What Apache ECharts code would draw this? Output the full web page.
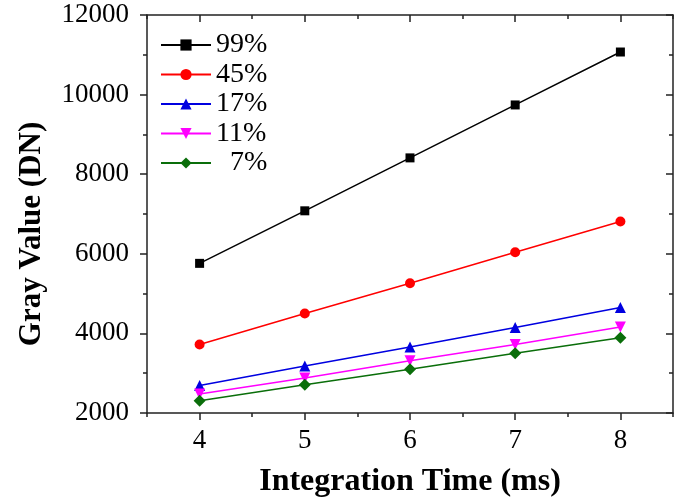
<!DOCTYPE html>
<html>
<head>
<meta charset="utf-8">
<script src="https://cdn.jsdelivr.net/npm/echarts@6/dist/echarts.min.js"></script>
<style>
  html, body { margin: 0; padding: 0; background: #fff; }
  #main { width: 676px; height: 503px; }
</style>
</head>
<body>
<div id="main"></div>
<script>
// integration time (ms)
var times = [4, 5, 6, 7, 8];
// gray value (DN) per reflectance
var r99 = [5760, 7080, 8410, 9740, 11070];
var r45 = [3720, 4500, 5260, 6040, 6810];
var r17 = [2690, 3180, 3660, 4150, 4650];
var r11 = [2480, 2880, 3310, 3720, 4160];
var r7 = [2310, 2710, 3100, 3500, 3890];
var names = ['99%', '45%', '17%', '11%', '7%'];
// x ticks
var xMajor = [4, 5, 6, 7, 8];
var xMinor = [3.5, 4.5, 5.5, 6.5, 7.5, 8.5];

var serif = "'Liberation Serif', 'Times New Roman', serif";
var axisCol = '#222';

function pairs(ys) {
    var out = [];
    for (var i = 0; i < times.length; i++) {
        out.push([times[i], ys[i]]);
    }
    return out;
}

function line(name, ys, color, symbol, size, rotate) {
    return {
        name: name,
        type: 'line',
        data: pairs(ys),
        symbol: symbol,
        symbolSize: size,
        symbolRotate: rotate || 0,
        lineStyle: { color: color, width: 1.5 },
        itemStyle: { color: color },
        animation: false
    };
}

// bottom/top x axes: one for the integer ticks, one for the half steps
function xAx(pos, ticks, len, inside, main) {
    return {
        type: 'value',
        position: pos,
        min: 3.5,
        max: 8.5,
        axisLine: { show: main, onZero: false, lineStyle: { color: axisCol, width: 1.5 } },
        axisTick: { show: true, inside: inside, length: len, customValues: ticks,
            lineStyle: { color: axisCol, width: 1.5 } },
        axisLabel: main && pos == 'bottom' ? {
            show: true, customValues: xMajor, margin: 14,
            color: '#000', fontSize: 27, fontFamily: serif
        } : { show: false },
        splitLine: { show: false },
        name: main && pos == 'bottom' ? 'Integration Time (ms)' : '',
        nameLocation: 'middle',
        nameGap: 53,
        nameTextStyle: { color: '#000', fontSize: 32, fontWeight: 'bold', fontFamily: serif }
    };
}

function yAx(pos, inside) {
    var left = pos == 'left';
    return {
        type: 'value',
        position: pos,
        min: 2000,
        max: 12000,
        interval: 2000,
        axisLine: { show: true, onZero: false, lineStyle: { color: axisCol, width: 1.5 } },
        axisTick: { show: true, inside: inside, length: 7, lineStyle: { color: axisCol, width: 1.5 } },
        minorTick: { show: true, splitNumber: 2, length: 4, lineStyle: { color: axisCol, width: 1.5 } },
        axisLabel: left ? {
            show: true, margin: 18, color: '#000', fontSize: 27, fontFamily: serif,
            formatter: function(v) { return String(v); }
        } : { show: false },
        splitLine: { show: false },
        minorSplitLine: { show: false },
        name: left ? 'Gray Value (DN)' : '',
        nameLocation: 'middle',
        nameGap: 100,
        nameTextStyle: { color: '#000', fontSize: 31, fontWeight: 'bold', fontFamily: serif,
            padding: [0, 40, 0, 0] }
    };
}

var chart = echarts.init(document.getElementById('main'));
var option = {
    backgroundColor: '#fff',
    animation: false,
    grid: { left: 147, right: 3, top: 15, bottom: 90, containLabel: false },
    legend: {
        orient: 'vertical',
        left: 155,
        top: 26,
        itemWidth: 50,
        itemHeight: 14,
        itemGap: 1.5,
        data: names,
        formatter: function(n) { return n == '7%' ? '  7%' : n; },
        textStyle: { color: '#000', fontSize: 28, lineHeight: 26, fontFamily: serif }
    },
    xAxis: [
        xAx('bottom', xMajor, 7, false, true),
        xAx('bottom', xMinor, 4, false, false),
        xAx('top', xMajor, 7, true, true),
        xAx('top', xMinor, 4, true, false)
    ],
    yAxis: [
        yAx('left', false),
        yAx('right', true)
    ],
    series: [
        line(names[0], r99, '#000000', 'rect', 9),
        line(names[1], r45, '#ff0000', 'circle', 10),
        line(names[2], r17, '#0000e0', 'triangle', 11),
        line(names[3], r11, '#ff00ff', 'triangle', 11, 180),
        line(names[4], r7, '#0a6e0a', 'diamond', 12)
    ]
};
chart.setOption(option);
</script>
</body>
</html>
